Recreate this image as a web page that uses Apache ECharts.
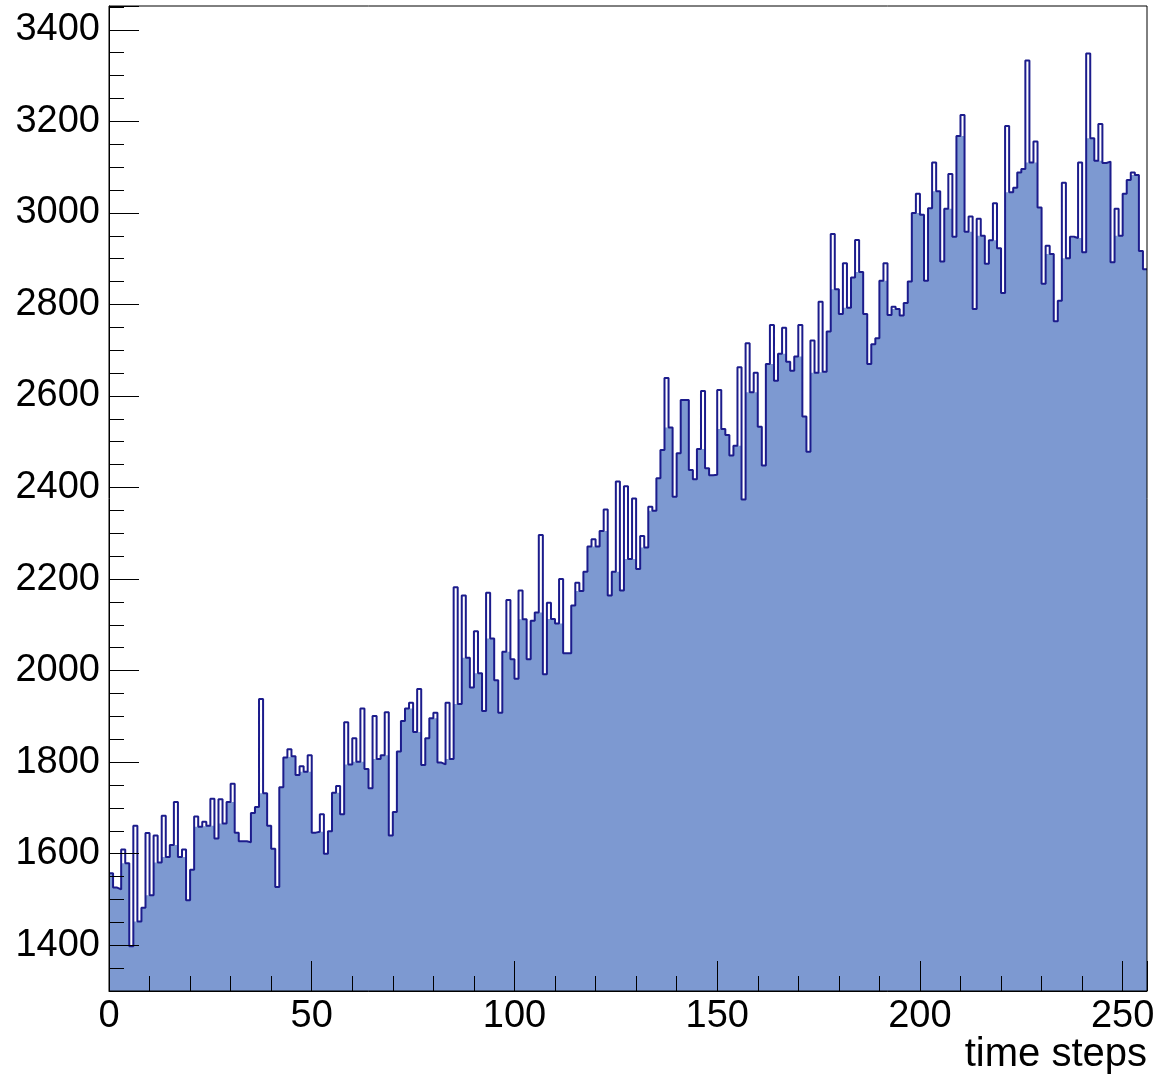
<!DOCTYPE html>
<html><head><meta charset="utf-8">
<script src="https://cdn.jsdelivr.net/npm/echarts@6/dist/echarts.min.js"></script>
<style>html,body{margin:0;padding:0;background:#fff}#c{width:1161px;height:1081px}</style>
</head><body><div id="c"></div>
<script>
// Histogram: 256 bins of width 1 starting at 0
const binLow = 0;
const binWidth = 1;
const counts = [
1557,1526,1522,1609,1579,1398,1661,1452,1482,1645,
1509,1640,1581,1683,1593,1619,1713,1593,1609,1498,
1565,1681,1659,1670,1661,1720,1633,1719,1666,1713,
1753,1646,1627,1627,1625,1689,1702,1938,1732,1661,
1611,1527,1745,1810,1828,1813,1772,1791,1779,1815,
1646,1648,1686,1600,1649,1733,1748,1686,1887,1795,
1852,1801,1917,1785,1743,1901,1807,1815,1909,1640,
1691,1823,1890,1917,1930,1866,1960,1794,1852,1896,
1908,1799,1795,1930,1807,2182,1927,2164,2028,1963,
2086,1994,1912,2170,2070,1979,1908,2041,2154,2025,
1982,2175,2112,2025,2109,2127,2296,1992,2148,2113,
2103,2200,2038,2038,2142,2192,2174,2216,2271,2287,
2271,2305,2352,2164,2216,2413,2175,2403,2244,2376,
2222,2294,2269,2358,2349,2420,2482,2639,2531,2380,
2475,2591,2591,2438,2418,2484,2611,2442,2427,2428,
2613,2528,2515,2470,2491,2663,2374,2715,2608,2651,
2533,2448,2670,2755,2633,2692,2749,2675,2655,2686,
2755,2555,2478,2721,2651,2806,2653,2741,2954,2833,
2779,2890,2793,2859,2941,2871,2779,2670,2713,2726,
2852,2890,2777,2795,2790,2776,2803,2850,3000,3042,
2996,2852,3010,3110,3047,2894,3009,3085,2948,3168,
3214,2959,2992,2790,2987,2950,2889,2940,3021,2923,
2825,3190,3045,3055,3088,3096,3333,3110,3156,3012,
2845,2928,2910,2763,2808,3066,2901,2948,2945,3110,
2914,3348,3163,3114,3194,3109,3112,2892,3009,2950,
3042,3072,3088,3083,2917,2877
];
const xRange = [0, 256];
const yRange = [1300, 3452];
const xTitle = 'time steps';

const nb = counts.length;
const edge = i => binLow + i * binWidth;
// outline: step through bin contents
const outlinePts = counts.map((v, i) => [edge(i), v]);
outlinePts.push([edge(nb), counts[nb - 1]]);
// fill as rendered in the original: single-bin spikes are left hollow
const fillVals = counts.map((v, i) => {
  if (i === 0 || i === nb - 1) return v;
  return Math.min(v, Math.max(counts[i - 1], counts[i + 1]));
});
const fillPts = fillVals.map((v, i) => [edge(i), v]);
fillPts.push([edge(nb), fillVals[nb - 1]]);

const FONT = '"Liberation Sans", Arial, Helvetica, sans-serif';
const chart = echarts.init(document.getElementById('c'), null, {renderer: 'canvas'});
chart.setOption({
  animation: false,
  backgroundColor: '#fff',
  grid: {left: 109, right: 14, top: 6, bottom: 90, show: true, z: 10,
         backgroundColor: 'transparent', borderColor: '#000', borderWidth: 1},
  xAxis: {
    type: 'value', min: xRange[0], max: xRange[1], splitNumber: 5, z: 6,
    axisLine: {show: true, onZero: false, lineStyle: {color: '#000', width: 1}},
    axisTick: {show: true, inside: true, length: 30, lineStyle: {color: '#000', width: 1}},
    minorTick: {show: true, splitNumber: 5, length: 15, lineStyle: {color: '#000', width: 1}},
    axisLabel: {fontSize: 38, color: '#000', fontFamily: FONT, margin: 7, showMaxLabel: false,
                formatter: v => String(v)},
    splitLine: {show: false}
  },
  yAxis: {
    type: 'value', min: yRange[0], max: yRange[1], splitNumber: 10, z: 6,
    axisLine: {show: true, lineStyle: {color: '#000', width: 1}},
    axisTick: {show: true, inside: true, length: 30, lineStyle: {color: '#000', width: 1}},
    minorTick: {show: true, splitNumber: 4, length: 15, lineStyle: {color: '#000', width: 1}},
    axisLabel: {fontSize: 38, color: '#000', fontFamily: FONT, margin: 9, showMinLabel: false, showMaxLabel: false,
                formatter: v => String(v)},
    splitLine: {show: false}
  },
  graphic: [{
    type: 'text', right: 14, top: 1035, z: 20,
    style: {text: xTitle, font: '40px ' + FONT, fill: '#000'}
  }],
  series: [{
    name: 'fill', type: 'line', step: 'end', data: fillPts, symbol: 'none', clip: true, z: 2,
    lineStyle: {width: 0, opacity: 0},
    areaStyle: {color: '#7d99d1', opacity: 1, origin: 'start'}
  }, {
    name: 'outline', type: 'line', step: 'end', data: outlinePts, symbol: 'none', clip: true, z: 3,
    lineStyle: {color: '#1c1c8c', width: 2}
  }]
});
</script>
</body></html>
